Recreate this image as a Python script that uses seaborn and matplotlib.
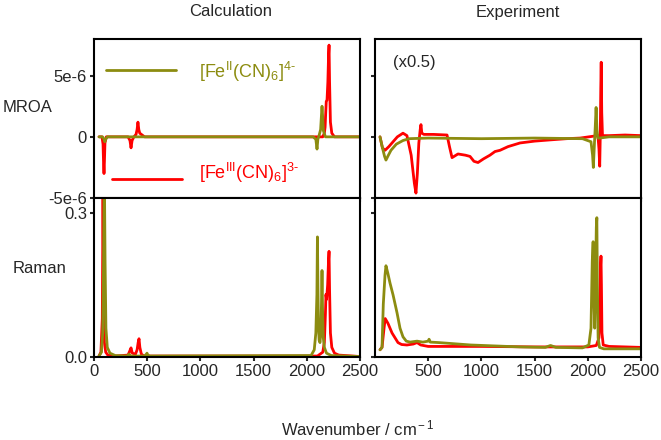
import numpy as np
import matplotlib
matplotlib.use("Agg")
import matplotlib.pyplot as plt
import seaborn as sns

# ---- data (wavenumber in cm-1) ----
# calculated MROA, values in units of 1e-6
calc_mroa_fe2_x = [47, 80, 95, 102, 110, 125, 300, 2060, 2085, 2096, 2104, 2115, 2130,
                   2138, 2143, 2148, 2156, 2175, 2500]
calc_mroa_fe2_y = [0, 0, -0.2, -0.4, -0.2, 0, 0, 0, -0.2, -1.0, -0.2, 0.1, 0.6,
                   1.8, 2.5, 1.8, 0.5, 0, 0]

calc_mroa_fe3_x = [47, 75, 85, 90, 94, 98, 103, 115, 320, 338, 348, 358, 375, 395, 405,
                   413, 421, 430, 445, 460, 475, 2070, 2150, 2165, 2172, 2178, 2183,
                   2190, 2198, 2205, 2209, 2214, 2222, 2235, 2260, 2500]
calc_mroa_fe3_y = [0, 0, -0.6, -2.2, -3.0, -2.0, -0.5, 0, 0, -0.3, -0.9, -0.3, 0, 0.2, 0.6,
                   1.2, 0.6, 0.3, 0.2, 0.1, 0, 0, 0, 0.3, 0.8, 2.0, 2.9,
                   3.0, 4.5, 6.8, 7.5, 4.5, 1.2, 0.3, 0, 0]

# experimental MROA (x0.5), units of 1e-6
exp_mroa_fe2_x = [47, 70, 90, 103, 120, 150, 200, 263, 320, 500, 1000, 1500, 1950, 2030,
                  2045, 2052, 2060, 2070, 2078, 2086, 2095, 2110, 2200, 2500]
exp_mroa_fe2_y = [0, -0.9, -1.6, -1.9, -1.6, -1.1, -0.6, -0.3, -0.15, -0.1, -0.15, -0.1, -0.15, -0.4,
                  -1.5, -2.5, -1.0, 0.8, 2.4, 0.6, -0.1, -0.1, 0, 0]

exp_mroa_fe3_x = [47, 70, 94, 130, 170, 210, 263, 300, 340, 370, 385, 398, 412, 425, 432,
                  440, 460, 550, 677, 700, 724, 780, 850, 893, 930, 968, 1020, 1080,
                  1128, 1175, 1250, 1363, 1500, 1645, 1800, 1927, 2050, 2095, 2105,
                  2112, 2117, 2122, 2126, 2131, 2138, 2200, 2350, 2500]
exp_mroa_fe3_y = [0, -0.9, -1.1, -0.8, -0.4, 0.0, 0.3, 0.1, -1.5, -3.8, -4.6, -3.0, -0.5, 0.6, 1.0,
                  0.3, 0.2, 0.2, 0.15, -0.8, -1.7, -1.4, -1.5, -1.6, -2.0, -2.1, -1.8, -1.5,
                  -1.2, -1.1, -0.8, -0.5, -0.35, -0.25, -0.15, -0.1, 0.05, 0.1, -1.0,
                  -2.4, 0, 4.0, 6.1, 2.0, 0.1, 0.1, 0.15, 0.1]

# calculated Raman
calc_raman_fe2_x = [47, 70, 82, 90, 97, 104, 112, 125, 150, 200, 310, 330, 345, 470, 490,
                    498, 506, 525, 2040, 2070, 2085, 2095, 2100, 2105, 2110, 2116, 2124,
                    2132, 2138, 2143, 2148, 2155, 2165, 2185, 2230, 2500]
calc_raman_fe2_y = [0.002, 0.01, 0.05, 0.2, 0.40, 0.2, 0.06, 0.02, 0.008, 0.003, 0.002, 0.006,
                    0.002, 0.002, 0.005, 0.008, 0.004, 0.002, 0.003, 0.015, 0.05, 0.13, 0.25,
                    0.14, 0.06, 0.035, 0.03, 0.05, 0.11, 0.18, 0.10, 0.04, 0.02, 0.008, 0.003,
                    0.001]

calc_raman_fe3_x = [47, 65, 78, 85, 92, 98, 110, 130, 200, 320, 335, 348, 360, 390, 405, 415,
                    423, 431, 445, 470, 2100, 2150, 2165, 2175, 2180, 2186, 2196, 2204, 2209,
                    2214, 2222, 2235, 2260, 2300, 2500]
calc_raman_fe3_y = [0.002, 0.01, 0.08, 0.34, 0.10, 0.03, 0.01, 0.004, 0.002, 0.004, 0.012,
                    0.019, 0.008, 0.006, 0.015, 0.03, 0.038, 0.02, 0.006, 0.002, 0.002, 0.01,
                    0.03, 0.09, 0.13, 0.12, 0.15, 0.20, 0.22, 0.14, 0.05, 0.02, 0.008, 0.004,
                    0.001]

# experimental Raman
exp_raman_fe2_x = [47, 66, 78, 94, 103, 120, 141, 170, 207, 235, 263, 294, 330, 395, 450,
                   500, 508, 520, 600, 900, 1363, 1600, 1650, 1700, 1950, 2010, 2030, 2042,
                   2050, 2058, 2065, 2072, 2080, 2085, 2090, 2097, 2110, 2150, 2500]
exp_raman_fe2_y = [0.015, 0.02, 0.11, 0.17, 0.19, 0.175, 0.154, 0.129, 0.092, 0.06, 0.042,
                   0.033, 0.031, 0.033, 0.031, 0.033, 0.037, 0.031, 0.03, 0.025, 0.021, 0.02,
                   0.024, 0.02, 0.019, 0.025, 0.06, 0.2, 0.24, 0.12, 0.06, 0.15, 0.27, 0.29,
                   0.15, 0.04, 0.02, 0.017, 0.017]

exp_raman_fe3_x = [47, 66, 85, 96, 122, 160, 188, 216, 250, 300, 360, 395, 430, 500, 700,
                   1000, 1500, 1650, 2000, 2080, 2105, 2115, 2120, 2124, 2128, 2133, 2145,
                   2200, 2500]
exp_raman_fe3_y = [0.015, 0.02, 0.06, 0.08, 0.07, 0.05, 0.04, 0.03, 0.026, 0.025, 0.027,
                   0.03, 0.025, 0.022, 0.022, 0.022, 0.021, 0.021, 0.021, 0.024, 0.04, 0.12,
                   0.19, 0.21, 0.15, 0.05, 0.025, 0.022, 0.02]

OLIVE = "#8c8c10"
RED = "#ff0000"

sns.set_style("ticks")
plt.rcParams["font.family"] = ["Liberation Sans", "DejaVu Sans"]
plt.rcParams["mathtext.fontset"] = "custom"
plt.rcParams["mathtext.rm"] = "Liberation Sans"
plt.rcParams["mathtext.it"] = "Liberation Sans"
plt.rcParams["font.size"] = 12

fig = plt.figure(figsize=(6.61, 4.40), dpi=100)
W = 266 / 661
H = 159 / 440
ax_tl = fig.add_axes([94 / 661, 0.55, W, H])
ax_tr = fig.add_axes([375 / 661, 0.55, W, H])
ax_bl = fig.add_axes([94 / 661, 1 - 357 / 440, W, H])
ax_br = fig.add_axes([375 / 661, 1 - 357 / 440, W, H])


def draw(ax, x3, y3, x2, y2, scale=1.0):
    sns.lineplot(x=x3, y=np.array(y3) * scale, ax=ax, color=RED, lw=2,
                 estimator=None, sort=False)
    sns.lineplot(x=x2, y=np.array(y2) * scale, ax=ax, color=OLIVE, lw=2,
                 estimator=None, sort=False)


draw(ax_tl, calc_mroa_fe3_x, calc_mroa_fe3_y, calc_mroa_fe2_x, calc_mroa_fe2_y, 1e-6)
draw(ax_tr, exp_mroa_fe3_x, exp_mroa_fe3_y, exp_mroa_fe2_x, exp_mroa_fe2_y, 1e-6)
draw(ax_bl, calc_raman_fe3_x, calc_raman_fe3_y, calc_raman_fe2_x, calc_raman_fe2_y)
draw(ax_br, exp_raman_fe3_x, exp_raman_fe3_y, exp_raman_fe2_x, exp_raman_fe2_y)

for ax in (ax_tl, ax_tr, ax_bl, ax_br):
    ax.set_xlim(0, 2500)
    ax.set_xlabel("")
    ax.set_ylabel("")
    for s in ax.spines.values():
        s.set_visible(True)
        s.set_linewidth(1.5)
        s.set_color("black")
    ax.tick_params(direction="out", length=3, width=1.5, labelsize=12, pad=2)

for ax in (ax_tl, ax_tr):
    ax.set_ylim(-5e-6, 8e-6)
    ax.set_yticks([-5e-6, 0, 5e-6])
    ax.set_xticks([0, 500, 1000, 1500, 2000, 2500])
    ax.set_xticklabels([])
for ax in (ax_bl, ax_br):
    ax.set_ylim(0, 0.331)
    ax.set_yticks([0, 0.3])

ax_tl.set_yticklabels(["-5e-6", "0", "5e-6"])
ax_tr.set_yticklabels([])
ax_bl.set_yticklabels(["0.0", "0.3"])
ax_br.set_yticklabels([])
ax_bl.set_xticks([0, 500, 1000, 1500, 2000, 2500])
ax_br.set_xticks([500, 1000, 1500, 2000, 2500])

# legend entries drawn by hand, as placed in the reference
ax_tl.plot([0.045, 0.308], [0.805, 0.805], color=OLIVE, lw=2, transform=ax_tl.transAxes)
ax_tl.plot([0.068, 0.331], [0.12, 0.12], color=RED, lw=2, transform=ax_tl.transAxes)
ax_tl.text(0.395, 0.79, r"[Fe$^{\rm II}$(CN)$_{\rm 6}$]$^{\rm 4\text{-}}$", color=OLIVE,
           fontsize=13, va="center", ha="left", transform=ax_tl.transAxes)
ax_tl.text(0.395, 0.157, r"[Fe$^{\rm III}$(CN)$_{\rm 6}$]$^{\rm 3\text{-}}$", color=RED,
           fontsize=13, va="center", ha="left", transform=ax_tl.transAxes)
ax_tr.text(0.068, 0.85, "(x0.5)", fontsize=12, va="center", ha="left",
           transform=ax_tr.transAxes)

fig.text(231 / 661, 1 - 12 / 440, "Calculation", ha="center", va="center", fontsize=12)
fig.text(518 / 661, 1 - 12 / 440, "Experiment", ha="center", va="center", fontsize=12)
fig.text(28 / 661, 1 - 108 / 440, "MROA", ha="center", va="center", fontsize=12)
fig.text(40 / 661, 1 - 268 / 440, "Raman", ha="center", va="center", fontsize=12)
fig.text(358 / 661, 1 - 428 / 440, r"Wavenumber / cm$^{\rm -1}$", ha="center",
         va="center", fontsize=12)

fig.savefig("out.png", dpi=100)
